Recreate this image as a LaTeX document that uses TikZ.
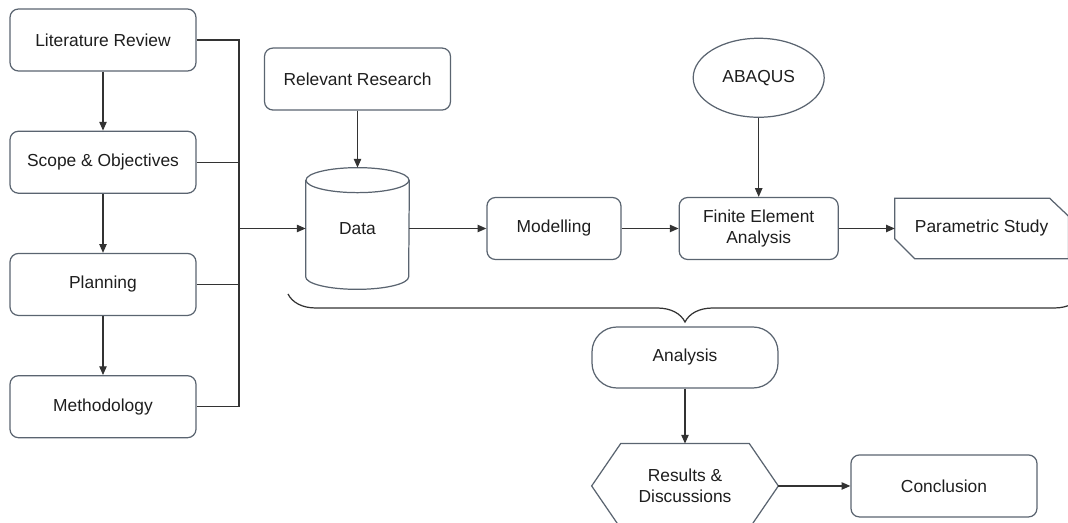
\documentclass[tikz,border=0pt]{standalone}
\usepackage{fontspec}
\setmainfont{Liberation Sans}
\usepackage{xcolor}
\usepackage{tikz}
\usetikzlibrary{arrows.meta,positioning,shapes.geometric,decorations.pathreplacing,backgrounds}
\definecolor{rim}{HTML}{5A6470}
\definecolor{wire}{HTML}{333333}
\definecolor{ink}{HTML}{1E1E1E}

\begin{document}
\begin{tikzpicture}[
  node distance=1.18cm and 1.5cm,
  every node/.style={font=\fontsize{9.9}{12}\selectfont, text=ink},
  box/.style={draw=rim, line width=0.7pt, rectangle, rounded corners=0.17cm,
              minimum width=3.72cm, minimum height=1.24cm, align=center},
  plain/.style={rectangle, minimum height=1.2cm, align=center, inner sep=0pt},
  oval/.style={draw=rim, line width=0.7pt, ellipse, minimum width=2.62cm,
               minimum height=1.58cm, inner sep=0pt},
  pill/.style={box, rounded corners=0.5cm, minimum height=1.22cm},
  outline/.style={draw=rim, line width=0.7pt, fill=white},
  line/.style={wire, line width=0.7pt},
  arr/.style={line, -{Triangle[length=5pt, width=4.2pt]}},
  curly/.style={line, decorate, decoration={brace, mirror, amplitude=0.56cm}}
]
\useasboundingbox (0,0) rectangle (21.36,-10.46);

% Nodes
\node[box] (lit) at (2.06,-0.80) {Literature Review};
\node[box, below=of lit] (scope) {Scope \& Objectives};
\node[box, below=of scope] (plan) {Planning};
\node[box, below=of plan] (meth) {Methodology};

\node[plain, minimum width=2.06cm, minimum height=2.42cm] (data) at (7.15,-4.57) {Data};
\node[box, above=1.14cm of data] (research) {Relevant Research};
\node[box, right=1.54cm of data, minimum width=2.68cm] (model) {Modelling};
\node[box, right=1.14cm of model, minimum width=3.18cm] (fea) {Finite Element\\Analysis};
\node[oval, above=1.58cm of fea] (abaqus) {ABAQUS};
\node[plain, right=1.12cm of fea, minimum width=3.46cm] (param) {Parametric Study};

\node[pill] (analysis) at (13.70,-7.15) {Analysis};
\node[plain, below=1.1cm of analysis, minimum width=3.72cm, minimum height=1.68cm] (res) {Results \&\\Discussions};
\node[box, right=1.44cm of res] (concl) {Conclusion};

% Drawn outlines (cylinder, tag, hexagon)
\begin{scope}[on background layer]
\path[outline] ([yshift=-0.25cm]data.north west) -- ([yshift=0.25cm]data.south west)
  arc[start angle=180, end angle=360, x radius=1.03cm, y radius=0.25cm]
  -- ([yshift=-0.25cm]data.north east);
\path[outline] ([yshift=-0.25cm]data.north) ellipse[x radius=1.03cm, y radius=0.25cm];
\path[outline] (param.north west) -- ([xshift=-0.38cm]param.north east)
  -- ([yshift=-0.36cm]param.north east) -- (param.south east)
  -- ([xshift=0.4cm]param.south west) -- ([yshift=0.4cm]param.south west) -- cycle;
\path[outline] (res.west) -- ([xshift=0.58cm]res.north west) -- ([xshift=-0.58cm]res.north east)
  -- (res.east) -- ([xshift=-0.58cm]res.south east) -- ([xshift=0.58cm]res.south west) -- cycle;
\end{scope}

% Left column
\draw[arr] (lit) -- (scope);
\draw[arr] (scope) -- (plan);
\draw[arr] (plan) -- (meth);

% Collector bus into data
\coordinate (busx) at (4.78,0);
\draw[line] (lit.east) -- (lit.east -| busx) -- (meth.east -| busx) -- (meth.east);
\draw[line] (scope.east) -- (scope.east -| busx);
\draw[line] (plan.east) -- (plan.east -| busx);
\draw[arr] (data.west -| busx) -- (data.west);

% Main row
\draw[arr] (research) -- (data);
\draw[arr] (data) -- (model);
\draw[arr] (model) -- (fea);
\draw[arr] (abaqus) -- (fea);
\draw[arr] (fea) -- (param);

% Brace and results
\coordinate (bl) at (5.76,-5.88);
\coordinate (br) at (21.64,-5.88);
\draw[curly] (bl) -- (br);
\draw[arr] (analysis) -- (res);
\draw[arr] (res.east) -- (concl.west);

\end{tikzpicture}
\end{document}
